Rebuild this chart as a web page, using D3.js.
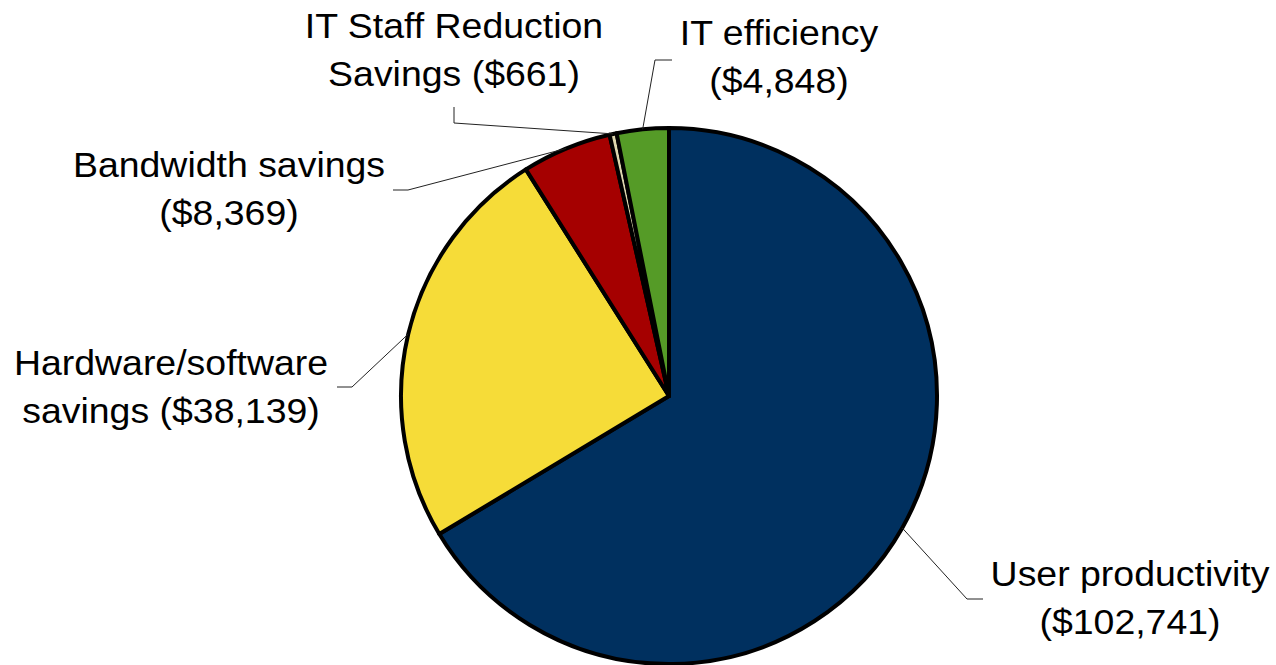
<!DOCTYPE html>
<html>
<head>
<meta charset="utf-8">
<script src="https://cdn.jsdelivr.net/npm/d3@7"></script>
<style>
  body { margin: 0; background: #fff; }
  text { font-family: "Liberation Sans", Arial, sans-serif; fill: #000; }
</style>
</head>
<body>
<div id="chart"></div>
<script>
// data
const categories = ['User productivity', 'Hardware/software savings', 'Bandwidth savings', 'IT Staff Reduction Savings', 'IT efficiency']
const values = [102741, 38139, 8369, 661, 4848]
const labelLines = [
    ['User productivity', '($102,741)'],
    ['Hardware/software', 'savings ($38,139)'],
    ['Bandwidth savings', '($8,369)'],
    ['IT Staff Reduction', 'Savings ($661)'],
    ['IT efficiency', '($4,848)']
]
const colors = ['#00305f', '#f6dc38', '#a50000', '#ddd6ae', '#559b27']

w = 1276
h = 665
const cx = 669, cy = 396, r = 268

// label layout: elbow point, end of short leg, text centre and first baseline
const layout = [
    { elbow: [967, 599], end: [983, 599], tx: 1130, ty: 586 },
    { elbow: [352, 387], end: [337, 387], tx: 171, ty: 375 },
    { elbow: [408, 190], end: [393, 190], tx: 229, ty: 177 },
    { elbow: [454, 123], end: [454, 107], tx: 454, ty: 38 },
    { elbow: [655, 60], end: [672, 60], tx: 779, ty: 45 }
]

const svg = d3.select('#chart')
    .append('svg')
    .attr('width', w)
    .attr('height', h)

const pie = d3.pie().sort(null).value(d => d)
const arcs = pie(values)
const arc = d3.arc().innerRadius(0).outerRadius(r)

const g = svg.append('g').attr('transform', 'translate(' + cx + ',' + cy + ')')

g.selectAll('path')
    .data(arcs)
    .enter()
    .append('path')
    .attr('d', arc)
    .attr('fill', (d, i) => colors[i])
    .attr('stroke', '#000')
    .attr('stroke-width', 4)
    .attr('stroke-linejoin', 'round')

// leader lines, starting at the slice edge on its mid angle
svg.selectAll('polyline.leader')
    .data(arcs)
    .enter()
    .append('polyline')
    .attr('class', 'leader')
    .attr('fill', 'none')
    .attr('stroke', '#222')
    .attr('stroke-width', 1)
    .attr('points', (d, i) => {
        const a = (d.startAngle + d.endAngle) / 2
        const sx = cx + r * Math.sin(a)
        const sy = cy - r * Math.cos(a)
        const l = layout[i]
        return [[sx, sy], l.elbow, l.end].map(p => p.join(',')).join(' ')
    })

// labels
const labels = svg.selectAll('text.label')
    .data(labelLines)
    .enter()
    .append('text')
    .attr('class', 'label')
    .attr('text-anchor', 'middle')
    .attr('font-size', 35)
    .attr('transform', (d, i) => 'translate(' + layout[i].tx + ',' + layout[i].ty + ') scale(1.07,1)')

labels.selectAll('tspan')
    .data(d => d)
    .enter()
    .append('tspan')
    .attr('x', 0)
    .attr('y', (d, j) => j * 48)
    .text(d => d)
</script>
</body>
</html>
